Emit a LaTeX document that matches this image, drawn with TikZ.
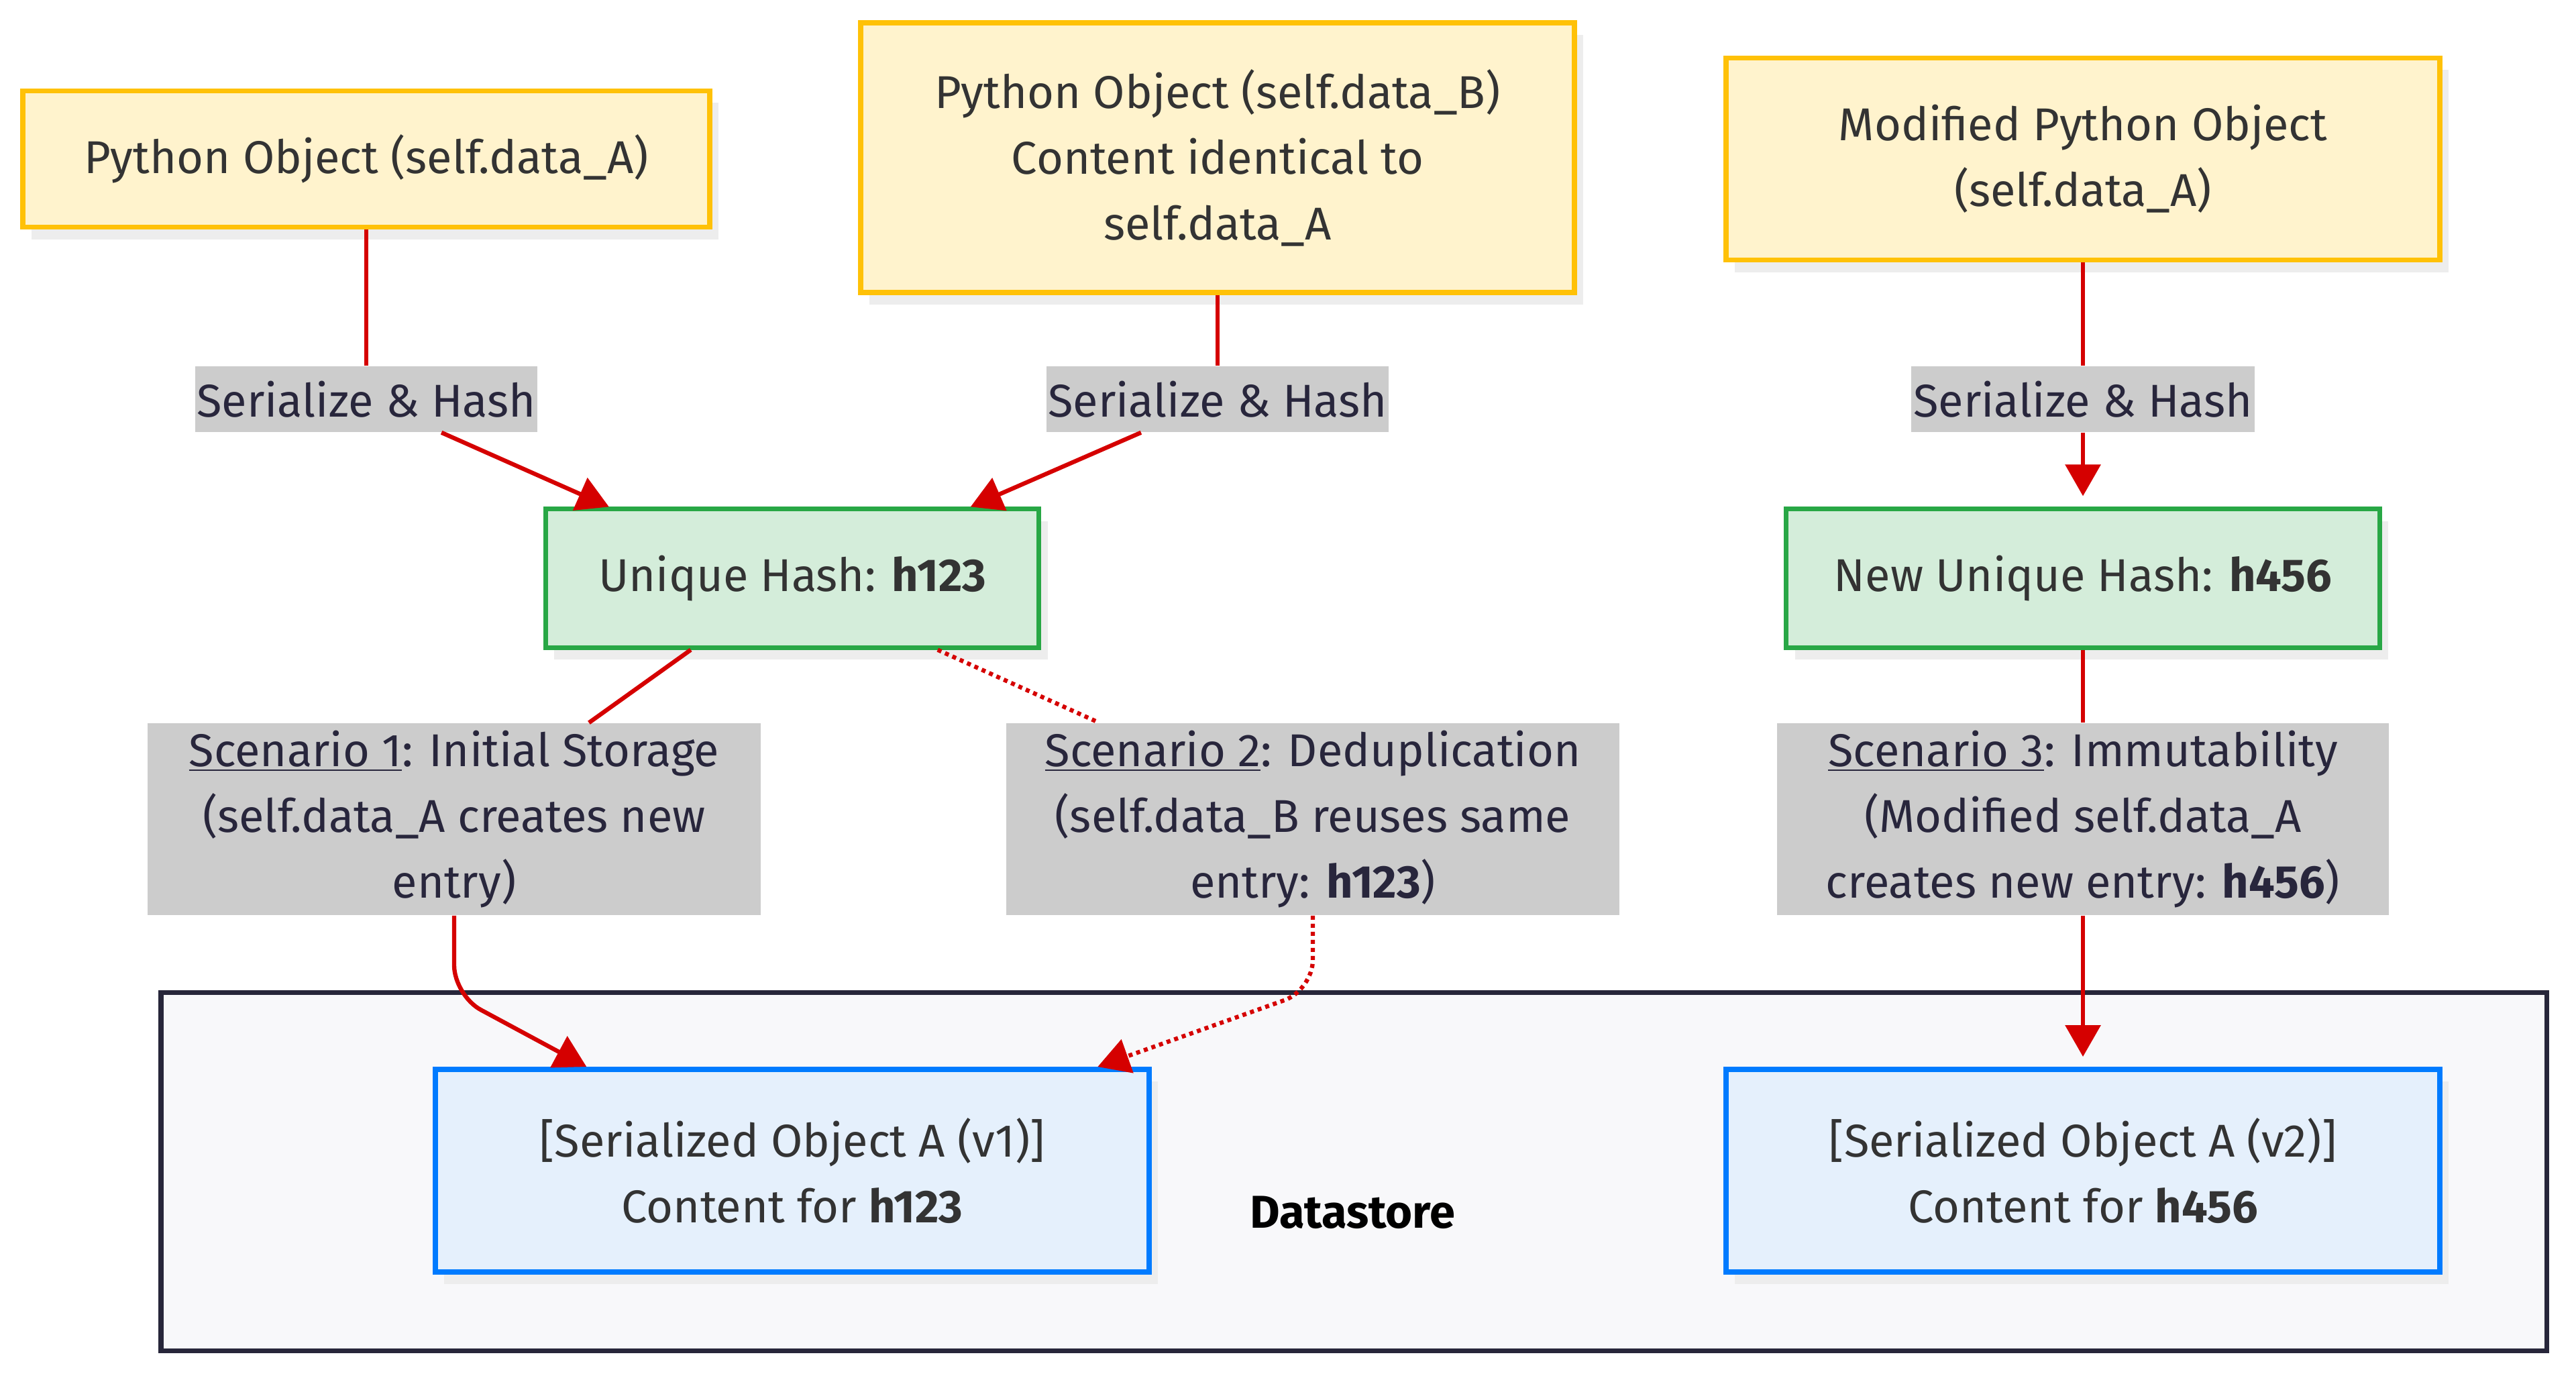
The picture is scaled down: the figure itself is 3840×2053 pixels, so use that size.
\documentclass[tikz,border=0pt]{standalone}
\usepackage{fontspec}
\setmainfont{Fira Sans}
\usetikzlibrary{arrows.meta,shadows,calc}

\definecolor{objline}{HTML}{FFC107}
\definecolor{objfill}{HTML}{FFF3CD}
\definecolor{hashline}{HTML}{28A745}
\definecolor{hashfill}{HTML}{D4EDDA}
\definecolor{storeline}{HTML}{007BFF}
\definecolor{storefill}{HTML}{E5F0FC}
\definecolor{lblfill}{HTML}{CCCCCC}
\definecolor{lbltext}{HTML}{28263C}
\definecolor{clusterline}{HTML}{27263A}
\definecolor{clusterfill}{HTML}{F8F8FA}
\definecolor{linkred}{HTML}{D50000}
\definecolor{boxtext}{HTML}{333333}

\begin{document}
\begin{tikzpicture}[x=0.01cm,y=-0.01cm,
  font=\fontsize{19.5pt}{27.9pt}\selectfont,
  >={Triangle[length=0.47cm,width=0.52cm]},
  shade/.style={drop shadow={shadow xshift=0.13cm,shadow yshift=-0.18cm,fill=black!7,opacity=1}},
  obj/.style={shade,draw=objline,fill=objfill,line width=2.2pt,text=boxtext,align=center,inner sep=0pt},
  hash/.style={shade,draw=hashline,fill=hashfill,line width=2pt,text=boxtext,align=center,inner sep=0pt,minimum height=2.06cm},
  store/.style={shade,draw=storeline,fill=storefill,line width=2.2pt,text=boxtext,align=center,inner sep=0pt,minimum width=10.63cm,minimum height=3.02cm},
  lbl/.style={fill=lblfill,text=lbltext,align=center,inner sep=0pt},
  link/.style={draw=linkred,line width=1.8pt},
  dots/.style={dash pattern=on 0.06cm off 0.06cm}
]
\useasboundingbox (0,0) rectangle (3840,2053);

% The datastore
\draw[draw=clusterline,fill=clusterfill,line width=2pt] (240,1479) rectangle (3796,2013);
\node[font=\fontsize{19.5pt}{27.9pt}\selectfont\bfseries] (storelbl) at (2016,1807) {Datastore};

% The objects
\node[obj,minimum width=10.24cm,minimum height=2.03cm] (objA) at (546,237) {Python Object (self.data\_A)};
\node[obj,minimum width=10.63cm,minimum height=4.02cm] (objB) at (1815,235) {Python Object (self.data\_B)\\Content identical to\\self.data\_A};
\node[obj,minimum width=10.63cm,minimum height=3.01cm] (objMod) at (3105,237) {Modified Python Object\\(self.data\_A)};

% The hashes
\node[hash,minimum width=7.35cm] (hashA) at (1181,862) {Unique Hash: \textbf{h123}};
\node[hash,minimum width=8.84cm] (hashNew) at (3105,862) {New Unique Hash: \textbf{h456}};

% The stored entries
\node[store] (storeA) at (1181,1745) {[Serialized Object A (v1)]\\Content for \textbf{h123}};
\node[store] (storeB) at (3105,1745) {[Serialized Object A (v2)]\\Content for \textbf{h456}};

% The labels
\node[lbl,minimum width=5.09cm,minimum height=0.98cm] (hashlblA) at (546,595) {Serialize \& Hash};
\node[lbl,minimum width=5.09cm,minimum height=0.98cm] (hashlblB) at (1815,595) {Serialize \& Hash};
\node[lbl,minimum width=5.12cm,minimum height=0.98cm] (hashlblC) at (3105,595) {Serialize \& Hash};
\node[lbl,minimum width=9.14cm,minimum height=2.86cm] (scenOne) at (677,1221) {\underline{Scenario 1}: Initial Storage\\(self.data\_A creates new\\entry)};
\node[lbl,minimum width=9.13cm,minimum height=2.86cm] (scenTwo) at (1957,1221) {\underline{Scenario 2}: Deduplication\\(self.data\_B reuses same\\entry: \textbf{h123})};
\node[lbl,minimum width=9.11cm,minimum height=2.86cm] (scenThree) at (3105,1221) {\underline{Scenario 3}: Immutability\\(Modified self.data\_A\\creates new entry: \textbf{h456})};

% The links
\draw[link] (objA) -- (hashlblA);
\draw[link,->] (hashlblA) -- ($(hashA.north west)+(98,0)$);
\draw[link] (objB) -- (hashlblB);
\draw[link,->] (hashlblB) -- ($(hashA.north west)+(637,0)$);
\draw[link] (objMod) -- (hashlblC);
\draw[link,->,shorten >=0.16cm] (hashlblC) -- (hashNew);

\draw[link] ($(hashA.south west)+(220,0)$) -- (scenOne);
\draw[link,dots] ($(hashA.south west)+(588,0)$) -- (scenTwo);
\draw[link] (hashNew) -- (scenThree);

\draw[link,->,rounded corners=0.45cm] (scenOne.south) -- ++(0,119) -- ($(storeA.north west)+(229,0)$);
\draw[link,dots,->,rounded corners=0.45cm] (scenTwo.south) -- ++(0,111) -- ($(storeA.north west)+(991,0)$);
\draw[link,->,shorten >=0.15cm] (scenThree) -- (storeB);
\end{tikzpicture}
\end{document}
